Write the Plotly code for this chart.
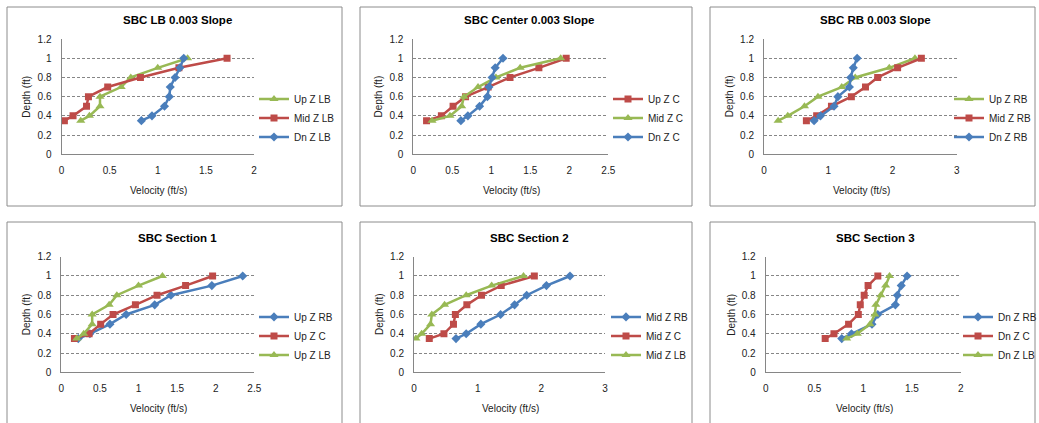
import plotly.graph_objects as go

W, H = 1039, 423

# Depth of each velocity reading (ft)
depth = [0.35, 0.4, 0.5, 0.6, 0.7, 0.8, 0.9, 1.0]

# Velocity profiles (ft/s) at each station
up_lb = [0.20, 0.29, 0.40, 0.40, 0.62, 0.72, 1.00, 1.31]
mid_lb = [0.03, 0.12, 0.26, 0.28, 0.48, 0.82, 1.22, 1.72]
dn_lb = [0.83, 0.94, 1.07, 1.12, 1.13, 1.18, 1.23, 1.27]
up_c = [0.17, 0.36, 0.51, 0.67, 0.96, 1.24, 1.61, 1.96]
mid_c = [0.24, 0.47, 0.62, 0.65, 0.83, 1.06, 1.37, 1.89]
dn_c = [0.61, 0.70, 0.85, 0.95, 0.97, 1.01, 1.05, 1.15]
up_rb = [0.22, 0.37, 0.63, 0.84, 1.21, 1.42, 1.95, 2.35]
mid_rb = [0.66, 0.82, 1.05, 1.36, 1.58, 1.77, 2.08, 2.45]
dn_rb = [0.78, 0.88, 1.09, 1.15, 1.33, 1.35, 1.39, 1.45]

titles = ["SBC LB 0.003 Slope", "SBC Center 0.003 Slope", "SBC RB 0.003 Slope",
          "SBC Section 1", "SBC Section 2", "SBC Section 3"]
x_max = [2, 2.5, 3, 2.5, 3, 2]
x_step = [0.5, 0.5, 1, 0.5, 1, 0.5]

BLUE, RED, GREEN = "#4a7ebb", "#be4b48", "#98b954"
style = {
    "blue": dict(color=BLUE, symbol="diamond", size=7),
    "red": dict(color=RED, symbol="square", size=7),
    "green": dict(color=GREEN, symbol="triangle-up", size=8),
}

# (name, values, colour) per panel, in legend order
panels = [
    [("Up Z LB", up_lb, "green"), ("Mid Z LB", mid_lb, "red"), ("Dn Z LB", dn_lb, "blue")],
    [("Up Z C", up_c, "red"), ("Mid Z C", mid_c, "green"), ("Dn Z C", dn_c, "blue")],
    [("Up Z RB", up_rb, "green"), ("Mid Z RB", mid_rb, "red"), ("Dn Z RB", dn_rb, "blue")],
    [("Up Z RB", up_rb, "blue"), ("Up Z C", up_c, "red"), ("Up Z LB", up_lb, "green")],
    [("Mid Z RB", mid_rb, "blue"), ("Mid Z C", mid_c, "red"), ("Mid Z LB", mid_lb, "green")],
    [("Dn Z RB", dn_rb, "blue"), ("Dn Z C", dn_c, "red"), ("Dn Z LB", dn_lb, "green")],
]

# plot-area pixel boxes: (left, right, top, bottom)
areas = [
    (61.5, 254.0, 39.0, 154.3),
    (413.3, 608.3, 39.0, 154.3),
    (764.0, 956.7, 39.0, 154.3),
    (61.3, 254.3, 256.7, 372.3),
    (414.0, 605.0, 256.7, 372.3),
    (765.7, 960.7, 256.7, 372.3),
]
legend_text_x = [296, 650, 991, 296, 648, 1000]
frames = [(7, 342, 7, 206), (360, 692, 7, 206), (710, 1035, 7, 206),
          (7, 342, 222, 440), (360, 692, 222, 440), (710, 1035, 222, 440)]

FONT = "Liberation Sans, Arial, sans-serif"
AXIS_COL = "#868686"

fig = go.Figure()
layout = dict(
    width=W, height=H, margin=dict(l=0, r=0, t=0, b=0, autoexpand=False),
    paper_bgcolor="white", plot_bgcolor="white",
    font=dict(family=FONT, size=10, color="#222222"),
    showlegend=True, shapes=[], annotations=[],
)

def px(x):
    return x / W

def py(y):
    return 1 - y / H

for i, (series, title) in enumerate(zip(panels, titles)):
    n = "" if i == 0 else str(i + 1)
    l, r, t, b = areas[i]
    leg = "legend" if i == 0 else f"legend{i + 1}"
    for name, vals, col in series:
        s = style[col]
        fig.add_trace(go.Scatter(
            x=vals, y=depth, name=name, mode="lines+markers",
            line=dict(color=s["color"], width=2.5),
            marker=dict(color=s["color"], symbol=s["symbol"], size=s["size"]),
            xaxis="x" + n, yaxis="y" + n, legend=leg,
        ))
    layout["xaxis" + n] = dict(
        domain=[px(l), px(r)], anchor="y" + n, range=[0, x_max[i]],
        dtick=x_step[i], tick0=0, showgrid=False, zeroline=False,
        showline=True, linecolor=AXIS_COL, linewidth=1, automargin=False,
        ticks="", ticklabelstandoff=7, tickfont=dict(size=10),
    )
    layout["yaxis" + n] = dict(
        domain=[py(b), py(t)], anchor="x" + n, range=[0, 1.2],
        dtick=0.2, tick0=0, showgrid=True, gridcolor=AXIS_COL, gridwidth=1,
        griddash="3px,2px", zeroline=False, automargin=False,
        showline=True, linecolor=AXIS_COL, linewidth=1,
        ticks="", ticklabelstandoff=7, tickfont=dict(size=10),
    )
    mid_y = (t + b) / 2 + (118 - 96.6)
    layout[leg] = dict(
        x=px(legend_text_x[i] - 42), xanchor="left",
        y=py(mid_y), yanchor="middle",
        bgcolor="rgba(0,0,0,0)", font=dict(size=10, family=FONT),
    )
    fl, fr, ft, fb = frames[i]
    layout["shapes"].append(dict(
        type="rect", xref="paper", yref="paper",
        x0=px(fl), x1=px(fr), y0=py(fb), y1=py(ft),
        line=dict(color="#8c8c8c", width=1), layer="below",
    ))
    layout["annotations"] += [
        dict(text=f"<b>{title}</b>", xref="paper", yref="paper",
             x=px((fl + fr) / 2 + 3), y=py(t - 19), showarrow=False,
             font=dict(size=11.5, family=FONT, color="#000000"),
             xanchor="center", yanchor="middle"),
        dict(text="Velocity (ft/s)", xref="paper", yref="paper",
             x=px((l + r) / 2 + 1), y=py(b + 36), showarrow=False,
             font=dict(size=10, family=FONT), xanchor="center", yanchor="middle"),
        dict(text="Depth (ft)", xref="paper", yref="paper",
             x=px(l - 34.5), y=py((t + b) / 2), showarrow=False, textangle=-90,
             font=dict(size=10, family=FONT), xanchor="center", yanchor="middle"),
    ]

fig.update_layout(**layout)
fig.write_html("out.html")
